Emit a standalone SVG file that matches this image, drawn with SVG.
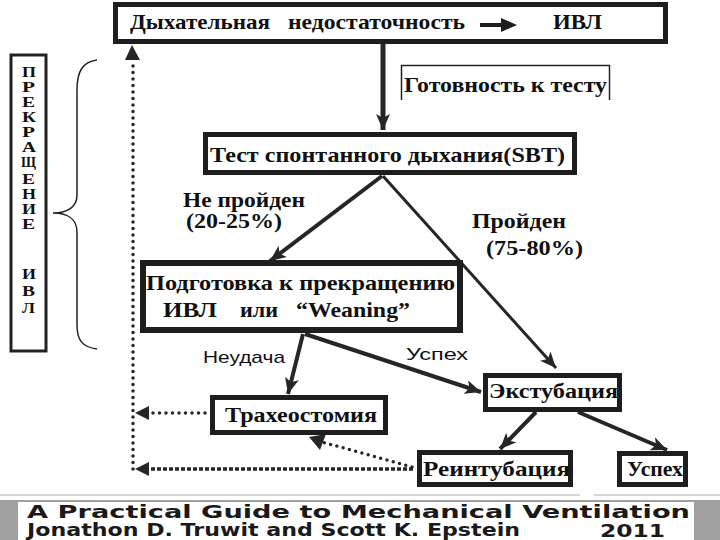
<svg xmlns="http://www.w3.org/2000/svg" width="720" height="540" viewBox="0 0 720 540">
<style>
.box{fill:#fff;stroke:#1e1e1e;stroke-width:5}
.t{font-family:"Liberation Serif","Times New Roman",serif;font-weight:bold;fill:#111}
.s{font-family:"Liberation Sans",Arial,sans-serif;fill:#111}
.ln{stroke:#262626;fill:none}
.dot{stroke:#262626;fill:none;stroke-width:3.5;stroke-linecap:round;stroke-dasharray:0 6.5}
.ft{font-family:"DejaVu Sans",sans-serif;font-weight:bold;fill:#1a1a1a}
.vl{font-family:"Liberation Serif",serif;font-weight:bold;font-size:15px;fill:#111}
</style>
<defs>
<marker id="ah" markerUnits="userSpaceOnUse" markerWidth="18" markerHeight="16" refX="16" refY="7" orient="auto">
<path d="M0,0 L16,7 L0,14 L4,7 Z" fill="#262626"/>
</marker>
</defs>
<rect width="720" height="540" fill="#fff"/>

<g id="side-label">
<rect x="11" y="55" width="35" height="296" fill="#fff" stroke="#222" stroke-width="3"/>
<text class="vl" x="22" y="77" textLength="14" lengthAdjust="spacingAndGlyphs">П</text>
<text class="vl" x="22" y="92" textLength="13" lengthAdjust="spacingAndGlyphs">Р</text>
<text class="vl" x="22" y="107" textLength="13" lengthAdjust="spacingAndGlyphs">Е</text>
<text class="vl" x="22" y="122" textLength="14" lengthAdjust="spacingAndGlyphs">К</text>
<text class="vl" x="22" y="137" textLength="13" lengthAdjust="spacingAndGlyphs">Р</text>
<text class="vl" x="22" y="152" textLength="14" lengthAdjust="spacingAndGlyphs">А</text>
<text class="vl" x="21" y="167" textLength="15" lengthAdjust="spacingAndGlyphs">Щ</text>
<text class="vl" x="22" y="184" textLength="13" lengthAdjust="spacingAndGlyphs">Е</text>
<text class="vl" x="22" y="199" textLength="14" lengthAdjust="spacingAndGlyphs">Н</text>
<text class="vl" x="22" y="214" textLength="14" lengthAdjust="spacingAndGlyphs">И</text>
<text class="vl" x="22" y="229" textLength="13" lengthAdjust="spacingAndGlyphs">Е</text>
<text class="vl" x="22" y="279" textLength="14" lengthAdjust="spacingAndGlyphs">И</text>
<text class="vl" x="22" y="296" textLength="13" lengthAdjust="spacingAndGlyphs">В</text>
<text class="vl" x="22" y="313" textLength="13" lengthAdjust="spacingAndGlyphs">Л</text>
</g>
<g id="brace">
<path d="M97,60 C82,62 77,72 77,90 L77,195 C77,208 66,213 53,213 C66,213 77,218 77,232 L77,325 C77,340 82,347 97,349" fill="none" stroke="#222" stroke-width="1.5"/>
</g>

<g id="connectors">
<line class="ln" x1="383" y1="43" x2="383" y2="130" stroke-width="5" marker-end="url(#ah)"/>
<line class="ln" x1="382" y1="176" x2="270" y2="261" stroke-width="4" marker-end="url(#ah)"/>
<line class="ln" x1="383" y1="176" x2="556" y2="368" stroke-width="3" marker-end="url(#ah)"/>
<line class="ln" x1="303" y1="334" x2="288" y2="394" stroke-width="4" marker-end="url(#ah)"/>
<line class="ln" x1="305" y1="334" x2="481" y2="392" stroke-width="4" marker-end="url(#ah)"/>
<line class="ln" x1="536" y1="412" x2="500" y2="449" stroke-width="4" marker-end="url(#ah)"/>
<line class="ln" x1="578" y1="412" x2="667" y2="450" stroke-width="4" marker-end="url(#ah)"/>
<line class="dot" x1="133" y1="469" x2="133" y2="62"/>
<polygon points="132,45 125,60 140,60" fill="#262626"/>
<line class="dot" x1="205" y1="413" x2="150" y2="413"/>
<polygon points="135,413 149,406 149,420" fill="#262626"/>
<line class="ln" x1="413" y1="469" x2="150" y2="469" stroke-width="3.5" stroke-dasharray="4 2"/>
<polygon points="135,469 149,462 149,476" fill="#262626"/>
<line class="dot" x1="412" y1="467" x2="322" y2="442"/>
<polygon points="309,437 326,434 320,450" fill="#262626"/>
</g>

<g id="n-top">
<rect class="box" x="115.5" y="4.5" width="550" height="37"/>
<text class="t" x="130" y="29" font-size="22" textLength="140" lengthAdjust="spacingAndGlyphs">Дыхательная</text>
<text class="t" x="288" y="29" font-size="22" textLength="177" lengthAdjust="spacingAndGlyphs">недостаточность</text>
<path d="M480,23 L501,23 L501,18 L517,25 L501,32 L501,27 L480,27 Z" fill="#1e1e1e"/>
<text class="t" x="553" y="29" font-size="22" textLength="49" lengthAdjust="spacingAndGlyphs">ИВЛ</text>
</g>

<g id="n-ready">
<path d="M401.5,100 L401.5,65.5 L609.5,65.5 L609.5,100" fill="#fff" stroke="#222" stroke-width="1.5"/>
<text class="t" x="404" y="92" font-size="20" textLength="203" lengthAdjust="spacingAndGlyphs">Готовность к тесту</text>
</g>

<g id="n-sbt">
<rect class="box" x="205.5" y="134.5" width="369" height="38"/>
<text class="t" x="210" y="162" font-size="22" textLength="355" lengthAdjust="spacingAndGlyphs">Тест спонтанного дыхания(SBT)</text>
</g>

<text class="t" x="183" y="207" font-size="20" textLength="122" lengthAdjust="spacingAndGlyphs">Не пройден</text>
<text class="t" x="186" y="228" font-size="20" textLength="96" lengthAdjust="spacingAndGlyphs">(20-25%)</text>
<text class="t" x="472" y="228" font-size="20" textLength="94" lengthAdjust="spacingAndGlyphs">Пройден</text>
<text class="t" x="486" y="255" font-size="20" textLength="97" lengthAdjust="spacingAndGlyphs">(75-80%)</text>

<g id="n-weaning">
<rect x="143" y="263" width="317" height="67" fill="#fff" stroke="#1e1e1e" stroke-width="6"/>
<text class="t" x="146" y="290" font-size="21" textLength="309" lengthAdjust="spacingAndGlyphs">Подготовка к прекращению</text>
<text class="t" x="163" y="317" font-size="21" textLength="54" lengthAdjust="spacingAndGlyphs">ИВЛ</text>
<text class="t" x="240" y="317" font-size="21" textLength="38" lengthAdjust="spacingAndGlyphs">или</text>
<text class="t" x="296" y="317" font-size="21" textLength="114" lengthAdjust="spacingAndGlyphs">“Weaning”</text>
</g>

<text class="s" x="203" y="363" font-size="17" textLength="82" lengthAdjust="spacingAndGlyphs">Неудача</text>
<text class="s" x="406" y="360" font-size="17" textLength="62" lengthAdjust="spacingAndGlyphs">Успех</text>

<g id="n-trach">
<rect class="box" x="212.5" y="397.5" width="173" height="35"/>
<text class="t" x="225" y="422" font-size="20" textLength="152" lengthAdjust="spacingAndGlyphs">Трахеостомия</text>
</g>

<g id="n-extub">
<rect class="box" x="485.5" y="375.5" width="134" height="34"/>
<text class="t" x="489" y="398" font-size="20" textLength="129" lengthAdjust="spacingAndGlyphs">Экстубация</text>
</g>

<g id="n-reintub">
<rect class="box" x="419.5" y="452.5" width="151" height="32"/>
<text class="t" x="423" y="476" font-size="21" textLength="147" lengthAdjust="spacingAndGlyphs">Реинтубация</text>
</g>

<g id="n-success">
<rect class="box" x="619.5" y="453.5" width="66" height="31"/>
<text class="t" x="627" y="476" font-size="20" textLength="56" lengthAdjust="spacingAndGlyphs">Успех</text>
</g>

<g id="footer">
<line x1="0" y1="495" x2="580" y2="495" stroke="#c8c8c8" stroke-width="1.5"/>
<line x1="594" y1="495" x2="720" y2="495" stroke="#c8c8c8" stroke-width="1.5"/>
<rect x="0" y="500" width="720" height="40" fill="#a0a0a0"/>
<rect x="18" y="502" width="676" height="38" fill="#fff"/>
<text class="ft" x="27" y="518" font-size="17" textLength="663" lengthAdjust="spacingAndGlyphs">A Practical Guide to Mechanical Ventilation</text>
<text class="ft" x="27" y="536" font-size="17" textLength="493" lengthAdjust="spacingAndGlyphs">Jonathon D. Truwit and Scott K. Epstein</text>
<text class="ft" x="600" y="537" font-size="18" textLength="65" lengthAdjust="spacingAndGlyphs">2011</text>
</g>
</svg>
